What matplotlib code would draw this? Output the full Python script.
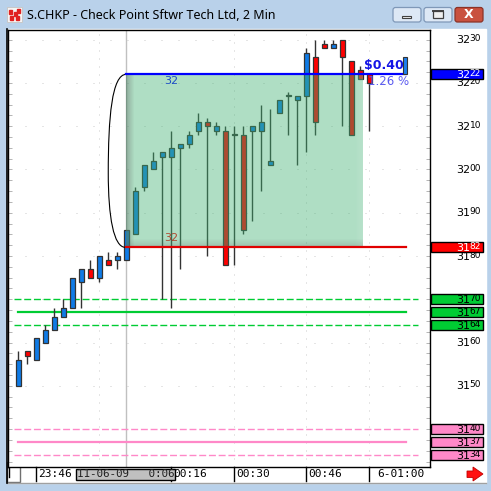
import numpy as np
import matplotlib
matplotlib.use("Agg")
import matplotlib.pyplot as plt
from matplotlib.patches import Rectangle, Polygon, FancyBboxPatch, PathPatch
from matplotlib.path import Path
from matplotlib.colors import LinearSegmentedColormap

# ---------------------------------------------------------------------------
# Data: 2-minute bars of S.CHKP (prices in cents)
# ---------------------------------------------------------------------------
opens  = [3150, 3158, 3156, 3160, 3163, 3166, 3168, 3174, 3177, 3175,
          3179, 3179, 3179, 3185, 3196, 3200, 3203, 3203, 3205, 3206,
          3209, 3211, 3209, 3209, 3208, 3208, 3209, 3209, 3201, 3213,
          3217, 3216, 3217, 3226, 3229, 3228, 3230, 3225, 3223, 3222]
highs  = [3158, 3158, 3161, 3164, 3168, 3170, 3175, 3177, 3179, 3180,
          3181, 3181, 3186, 3196, 3201, 3204, 3204, 3209, 3206, 3209,
          3213, 3212, 3211, 3210, 3210, 3210, 3210, 3215, 3214, 3216,
          3218, 3217, 3228, 3230, 3230, 3230, 3230, 3225, 3224, 3222]
lows   = [3150, 3155, 3156, 3160, 3163, 3166, 3168, 3168, 3175, 3174,
          3178, 3177, 3179, 3185, 3195, 3200, 3170, 3168, 3177, 3205,
          3208, 3180, 3208, 3178, 3178, 3185, 3188, 3195, 3201, 3213,
          3208, 3201, 3204, 3208, 3228, 3228, 3210, 3208, 3221, 3209]
closes = [3156, 3157, 3161, 3163, 3166, 3168, 3175, 3177, 3175, 3180,
          3178, 3180, 3186, 3195, 3201, 3202, 3204, 3205, 3206, 3208,
          3211, 3210, 3210, 3178, 3208, 3186, 3210, 3211, 3202, 3216,
          3217, 3217, 3227, 3211, 3228, 3229, 3226, 3208, 3221, 3220]

time_ticks  = [2, 17, 24, 32, 39]
time_labels = ["23:46", "00:16", "00:30", "00:46", "6-01:00"]
cursor_bar  = 12
cursor_text = "11-06-09   0:06"

axis_prices = [3230, 3220, 3210, 3200, 3190, 3180, 3160, 3150]

box_top, box_bottom = 3222, 3182
box_left, box_right = 12, 38.3
box_label = "32"
move_text, pct_text = "$0.40", "1.26 %"

level_prices = [3222, 3182, 3170, 3167, 3164, 3140, 3137, 3134]
level_colors = ["#0000ff", "#ff0000", "#00cc33", "#00cc33", "#00cc33",
                "#ff88c8", "#ff88c8", "#ff88c8"]
level_text   = ["white", "white", "black", "black", "black",
                "black", "black", "black"]
level_solid  = [True, True, False, True, False, False, True, False]

BLUE, RED, EDGE = "#0f7be6", "#ff0000", "#333333"
FRAME = "#b9d1ea"

W = H = 491
fig = plt.figure(figsize=(W / 100, H / 100), dpi=100)

# ---------------------------------------------------------------------------
# Window chrome (pixel coordinates)
# ---------------------------------------------------------------------------
bg = fig.add_axes([0, 0, 1, 1])
bg.axis("off")
bg.add_patch(Rectangle((0, 0), W, H, color=FRAME))
grad = LinearSegmentedColormap.from_list("title", ["#d6e4f4", "#bcd2eb"])
bg.imshow(np.linspace(0, 1, 40)[:, None], extent=(0, W, 29, 0), cmap=grad, aspect="auto")
bg.add_patch(Rectangle((7, 29), 479, 454, color="white"))
bg.plot([7, 486], [483, 483], color="#a0a0a0", lw=1)
bg.plot([7, 7], [29, 483], color="black", lw=1.2)

# icon + title
bg.add_patch(Rectangle((7, 7), 15, 15, fc="#f4f4f4", ec="#c8c8c8", lw=0.7))
for x0, y0 in [(9, 10), (14, 12), (17, 9), (10, 16), (16, 16)]:
    bg.add_patch(Rectangle((x0, y0), 3.5, 3.5, color="#e02020"))
bg.text(27, 15, "S.CHKP - Check Point Sftwr Tech Ltd, 2 Min", fontsize=9,
        family="Noto Sans", va="center", ha="left", color="black")

# caption buttons
for x0, fc, ec in [(393, "#dde8f5", "#7f98b8"), (424, "#dde8f5", "#7f98b8"),
                   (455, "#c9513f", "#8c3328")]:
    bg.add_patch(FancyBboxPatch((x0, 7.5), 28, 14.5, boxstyle="round,pad=0,rounding_size=2.5",
                                fc=fc, ec=ec, lw=0.9))
bg.add_patch(Rectangle((402.5, 15.5), 9, 2.5, fc="#f0f0f0", ec="#404040", lw=0.8))
bg.add_patch(Rectangle((433, 10.5), 10, 7.5, fc="#f0f0f0", ec="#404040", lw=0.9))
bg.plot([433, 443], [11.2, 11.2], color="#404040", lw=1.4)
bg.text(469, 14.8, "X", fontsize=9, fontweight="bold", color="white", ha="center", va="center")

# bottom-left scroll box and red arrow
bg.add_patch(Rectangle((7.5, 462), 13, 20, fc="white", ec="#707070", lw=1))
bg.plot([9.5, 9.5], [467, 477], color="black", lw=1)
bg.add_patch(Polygon([(467, 471), (473, 471), (473, 467), (483, 474), (473, 481),
                      (473, 477.5), (467, 477.5)], closed=True, fc="#ff1010", ec="#c00000", lw=0.6))
bg.set_xlim(0, W)
bg.set_ylim(H, 0)

# ---------------------------------------------------------------------------
# Price chart
# ---------------------------------------------------------------------------
ax_l, ax_r, ax_t, ax_b = 8, 430, 30, 466.7
ax = fig.add_axes([ax_l / W, (H - ax_b) / H, (ax_r - ax_l) / W, (ax_b - ax_t) / H])
ax.set_xlim(-1.14, 45.75)
ax.set_ylim(3131.3, 3232.24)
for s in ax.spines.values():
    s.set_color("black")
    s.set_linewidth(1)
ax.set_xticks([])
ax.yaxis.set_major_locator(plt.MultipleLocator(2.5))
ax.tick_params(axis="y", direction="in", left=True, right=True, labelleft=False,
               length=3, color="#b4b4b4", width=0.7)

px_per_unit = (ax_b - ax_t) / (3232.24 - 3131.3)

# faint dotted grid
for p in range(3150, 3231, 10):
    ax.plot([-1.14, 45.75], [p, p], color="#cccccc", lw=0.72, ls=(0, (1, 16)), zorder=0.5)
for t in [9, 24, 32, 39]:
    ax.plot([t, t], [3131.3, 3232.24], color="#cccccc", lw=0.72, ls=(0, (1, 7)), zorder=0.5)
ax.plot([cursor_bar, cursor_bar], [3131.3, 3232.24], color="#c0c0c0", lw=1, zorder=0.6)

# support / resistance levels (the blue/red pair is drawn with the box)
for p, col, solid in zip(level_prices[2:], level_colors[2:], level_solid[2:]):
    if solid:
        ax.plot([0, 43.1], [p, p], color=col, lw=1.6, zorder=1.5)
    else:
        ax.plot([-0.5, 44.4], [p, p], color=col, lw=1.0, linestyle=(0, (5, 2)),
                zorder=1.5)

# candles
idx = np.arange(len(opens))
o, hi, lo, c = (np.array(a, dtype=float) for a in (opens, highs, lows, closes))
up = c >= o
ax.vlines(idx, lo, hi, color=EDGE, lw=1, zorder=2)
ax.bar(idx, np.maximum(np.abs(c - o), 0.12), bottom=np.minimum(o, c), width=0.52,
       color=np.where(up, BLUE, RED), edgecolor=EDGE, linewidth=0.9, zorder=2.2)

# box labels (under the overlay)
ax.text(17.0, box_top - 1.5, box_label, color="#0000ff", fontsize=8, ha="center", va="center", zorder=2.5)
ax.text(17.0, box_bottom + 2.2, box_label, color="#ff0000", fontsize=8, ha="center", va="center", zorder=2.5)

# green measurement box with soft shadow
ax.add_patch(Rectangle((box_left, box_bottom), box_right - box_left, box_top - box_bottom,
                       fc=(65 / 255, 178 / 255, 115 / 255), alpha=0.42, lw=0, zorder=3))
bar_px = 422 / (45.75 + 1.14)
for k in range(8):
    ax.add_patch(Rectangle((box_left + k / bar_px, box_bottom), 1 / bar_px, box_top - box_bottom,
                           color="#606060", alpha=0.38 * (1 - k / 8), lw=0, zorder=3.1))
    ax.add_patch(Rectangle((box_left, box_bottom + k / px_per_unit), box_right - box_left,
                           1 / px_per_unit, color="#606060", alpha=0.22 * (1 - k / 8), lw=0, zorder=3.1))
    ax.add_patch(Rectangle((box_right - (k + 1) / bar_px, box_bottom), 1 / bar_px, box_top - box_bottom,
                           color="white", alpha=0.1 * (1 - k / 8), lw=0, zorder=3.1))

# bracket on the left of the box
mid = box_bottom + 0.43 * (box_top - box_bottom)
verts = [(box_left, box_top), (box_left - 1.6, box_top), (box_left - 2.0, box_top - 10),
         (box_left - 2.0, mid), (box_left - 2.0, box_bottom + 7), (box_left - 1.4, box_bottom),
         (box_left - 0.1, box_bottom)]
codes = [Path.MOVETO] + [Path.CURVE4] * 6
ax.add_patch(PathPatch(Path(verts, codes), fc="none", ec="black", lw=0.8, zorder=4))

ax.plot([box_left, 43.1], [box_top, box_top], color="#0000ff", lw=1.6, zorder=5)
ax.plot([box_left, 43.1], [box_bottom, box_bottom], color="#e00000", lw=1.6, zorder=5)

ax.text(38.4, 3224.0, move_text, color="#1414e6", fontsize=9, fontweight="bold",
        ha="left", va="center", zorder=6)
ax.text(38.9, 3220.4, pct_text, color="#5a5af0", fontsize=8.5, ha="left", va="center", zorder=6)
ax.add_patch(Rectangle((42.7, box_top), 0.5, 3.9, fc="#1e80f0", ec=EDGE, lw=0.8, zorder=6))

# ---------------------------------------------------------------------------
# Price axis
# ---------------------------------------------------------------------------
def price_label(p, color, z):
    big, small = str(p)[:2], str(p)[2:]
    ax.annotate(big, xy=(1, p), xycoords=("axes fraction", "data"), xytext=(40, -0.5),
                textcoords="offset pixels", ha="right", va="center", fontsize=8,
                color=color, annotation_clip=False, zorder=z)
    ax.annotate(small, xy=(1, p), xycoords=("axes fraction", "data"), xytext=(51, 1),
                textcoords="offset pixels", ha="right", va="center", fontsize=6.5,
                color=color, annotation_clip=False, zorder=z)

for p in axis_prices:
    price_label(p, "black", 7)

box_w = 52 / 422
for p, col, tcol in zip(level_prices, level_colors, level_text):
    ax.add_patch(Rectangle((1 + 1 / 422, p - 5 / px_per_unit), box_w, 10 / px_per_unit,
                           transform=ax.get_yaxis_transform(), clip_on=False,
                           fc=col, ec="black", lw=1, zorder=8))
    price_label(p, tcol, 9)

# ---------------------------------------------------------------------------
# Time axis
# ---------------------------------------------------------------------------
tick_h = 14.5 / (ax_b - ax_t)
for t, lab in zip(time_ticks, time_labels):
    ax.plot([t, t], [-tick_h, 0], transform=ax.get_xaxis_transform(), color="black",
            lw=1, clip_on=False, zorder=7)
    dx = 8 if lab.startswith("6-") else 2
    ax.annotate(lab, xy=(t, 0), xycoords=("data", "axes fraction"), xytext=(dx, -7.5),
                textcoords="offset pixels", ha="left", va="center", fontsize=8,
                family="DejaVu Sans Mono", annotation_clip=False, zorder=7)

ax.annotate(cursor_text, xy=(cursor_bar, 0), xycoords=("data", "axes fraction"),
            xytext=(-1, -7.5), textcoords="offset pixels", ha="center", va="center",
            fontsize=7.8, family="DejaVu Sans Mono", color="#202020", annotation_clip=False,
            zorder=9, bbox=dict(boxstyle="square,pad=0.05", fc="#c0c0c0", ec="black", lw=1))

fig.savefig("out.png", dpi=100)
